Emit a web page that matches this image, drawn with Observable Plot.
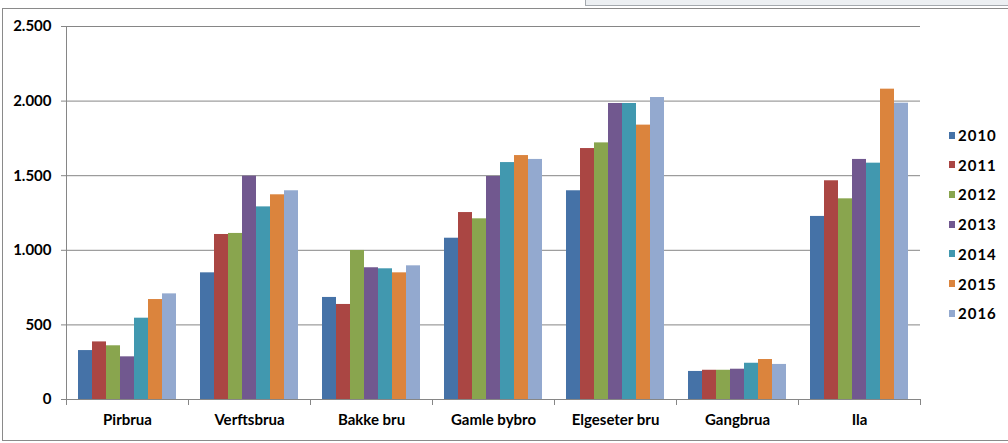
<!DOCTYPE html>
<html><head><meta charset="utf-8">
<script src="https://cdn.jsdelivr.net/npm/d3@7"></script>
<script src="https://cdn.jsdelivr.net/npm/@observablehq/plot@0.6"></script>
<style>
body{margin:0;background:#fff;}
#wrap{position:relative;width:1008px;height:443px;overflow:hidden;font-family:Lato,"Open Sans",sans-serif;}
#wrap svg{position:absolute;left:0;top:0;}
#wrap svg text{font-weight:bold;}
.border{position:absolute;left:2px;top:8px;width:1020px;height:431px;border:1px solid #8a8a8a;}
.topbox{position:absolute;left:585px;top:-3px;width:440px;height:7px;border:1px solid #a4a9ae;background:#eceff2;}
.legend{position:absolute;left:949px;top:0;}
.item{position:absolute;left:0;height:16px;display:flex;align-items:center;white-space:nowrap;font-size:15px;font-weight:bold;letter-spacing:1px;color:#000;}
.sw{width:6px;height:7px;margin-right:3px;}
</style></head><body><div id="wrap"><div class="border"></div><div class="topbox"></div></div>
<script>
const bridges = ["Pirbrua","Verftsbrua","Bakke bru","Gamle bybro","Elgeseter bru","Gangbrua","Ila"];
const years = ["2010","2011","2012","2013","2014","2015","2016"];
const colors = ["#4572A7","#AA4643","#89A54E","#71588F","#4198AF","#DB843D","#93A9CF"];
const yTicks = [0,500,1000,1500,2000,2500];
const v2010 = [328, 849, 684, 1081, 1399, 188, 1227];
const v2011 = [386, 1106, 637, 1253, 1682, 196, 1466];
const v2012 = [360, 1113, 999, 1211, 1720, 196, 1345];
const v2013 = [286, 1497, 883, 1495, 1984, 203, 1609];
const v2014 = [545, 1291, 876, 1588, 1984, 243, 1584];
const v2015 = [670, 1372, 849, 1635, 1839, 268, 2080];
const v2016 = [708, 1399, 896, 1609, 2024, 235, 1986];
const series = [v2010, v2011, v2012, v2013, v2014, v2015, v2016];

const data = bridges.flatMap((b, i) => years.map((y, j) => ({bridge: b, year: y, value: series[j][i]})));
const fmt = d3.formatLocale({decimal: ",", thousands: ".", grouping: [3]}).format(",");

const W = 1008, H = 443, mL = 63, mR = 85, mT = 26, mB = 44;
const grid = "#868686";
const chart = Plot.plot({
  width: W, height: H, marginLeft: mL, marginRight: mR, marginTop: mT, marginBottom: mB,
  style: {fontFamily: "Lato, 'Open Sans', sans-serif", fontSize: "15px", color: "#000", background: "transparent"},
  fx: {domain: bridges, padding: 0, label: null},
  x: {domain: years, paddingInner: 0, paddingOuter: 0.765, axis: null},
  y: {domain: [0, 2500], axis: null},
  color: {domain: years, range: colors},
  marks: [
    Plot.ruleY(yTicks.slice(1), {stroke: grid}),
    Plot.barY(data, {fx: "bridge", x: "year", y: "value", fill: "year"}),
    Plot.ruleY([0], {stroke: grid}),
    Plot.frame({anchor: "left", fx: bridges[0], stroke: grid}),
    Plot.frame({anchor: "left", insetTop: H - mT - mB, insetBottom: -5, stroke: grid}),
    Plot.frame({anchor: "right", insetTop: H - mT - mB, insetBottom: -5, stroke: grid}),
    Plot.axisY({ticks: yTicks, tickFormat: fmt, tickSize: 5, tickPadding: 10, stroke: grid, fill: "#000", label: null}),
    Plot.axisFx({anchor: "bottom", tickSize: 0, tickPadding: 15, label: null, fill: "#000"})
  ]
});
const wrap = document.getElementById("wrap");
wrap.appendChild(chart);

const legend = document.createElement("div");
legend.className = "legend";
years.forEach((y, i) => {
  const it = document.createElement("div");
  it.className = "item";
  it.style.top = (127 + i * 29.7) + "px";
  const sw = document.createElement("span");
  sw.className = "sw";
  sw.style.background = colors[i];
  const t = document.createElement("span");
  t.textContent = y;
  it.appendChild(sw); it.appendChild(t);
  legend.appendChild(it);
});
wrap.appendChild(legend);
</script></body></html>
